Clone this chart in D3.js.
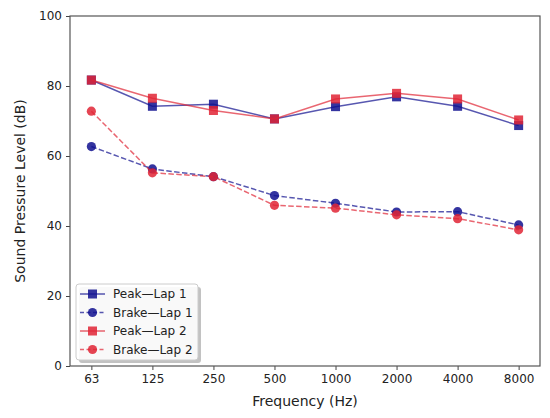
<!DOCTYPE html>
<html>
<head>
<meta charset="utf-8">
<script src="https://cdn.jsdelivr.net/npm/d3@7"></script>
<style>
  body { margin: 0; background: #fff; }
  text { font-family: "DejaVu Sans", sans-serif; fill: #222; }
</style>
</head>
<body>
<div id="chart"></div>
<script>
// chart data
var frequencies = ["63", "125", "250", "500", "1000", "2000", "4000", "8000"];
var peakLap1 = [81.7, 74.2, 74.8, 70.6, 74.1, 76.9, 74.2, 68.7];
var brakeLap1 = [62.7, 56.3, 54.1, 48.7, 46.5, 44.0, 44.1, 40.3];
var peakLap2 = [81.7, 76.5, 73.0, 70.6, 76.3, 77.9, 76.3, 70.3];
var brakeLap2 = [72.8, 55.2, 54.1, 45.9, 45.1, 43.2, 42.1, 38.9];
var yTicks = [0, 20, 40, 60, 80, 100];

var svgWidth = 550;
var svgHeight = 418;
var margin = { top: 16, right: 10, bottom: 52, left: 70 };
var width = svgWidth - margin.left - margin.right;
var height = svgHeight - margin.top - margin.bottom;

var blue = "#10108f";
var red = "#e02535";

var series = [
  { name: "Peak\u2014Lap 1", values: peakLap1, color: blue, dash: null, shape: "square" },
  { name: "Brake\u2014Lap 1", values: brakeLap1, color: blue, dash: "5.5,2.4", shape: "circle" },
  { name: "Peak\u2014Lap 2", values: peakLap2, color: red, dash: null, shape: "square" },
  { name: "Brake\u2014Lap 2", values: brakeLap2, color: red, dash: "5.5,2.4", shape: "circle" }
];

var svg = d3.select("#chart")
  .append("svg")
  .attr("width", svgWidth)
  .attr("height", svgHeight);

var chartGroup = svg.append("g")
  .attr("transform", `translate(${margin.left}, ${margin.top})`);

var xScale = d3.scalePoint()
  .domain(frequencies)
  .range([0, width])
  .padding(0.35);

var yScale = d3.scaleLinear()
  .domain([0, 100])
  .range([height, 0]);

// axes
var bottomAxis = d3.axisBottom(xScale).tickSizeOuter(0).tickSize(4).tickPadding(4);
var leftAxis = d3.axisLeft(yScale).tickValues(yTicks).tickSizeOuter(0).tickSize(4).tickPadding(4);

var xAxisG = chartGroup.append("g")
  .attr("transform", `translate(0, ${height})`)
  .call(bottomAxis);
var yAxisG = chartGroup.append("g").call(leftAxis);

[xAxisG, yAxisG].forEach(function (g) {
  g.select(".domain").remove();
  g.selectAll(".tick line").attr("stroke", "#444");
  g.selectAll(".tick text").style("font-size", "12px").style("font-family", "DejaVu Sans").attr("fill", "#222");
});

// frame
chartGroup.append("rect")
  .attr("width", width)
  .attr("height", height)
  .attr("fill", "none")
  .attr("stroke", "#555")
  .attr("stroke-width", 1.2);

// lines and markers
var line = d3.line()
  .x((d, i) => xScale(frequencies[i]))
  .y(d => yScale(d));

function drawMarker(g, shape, color, x, y) {
  if (shape === "square") {
    g.append("rect")
      .attr("x", x - 4.5).attr("y", y - 4.5)
      .attr("width", 9).attr("height", 9)
      .attr("fill", color).attr("fill-opacity", 0.85);
  } else {
    g.append("circle")
      .attr("cx", x).attr("cy", y).attr("r", 4.6)
      .attr("fill", color).attr("fill-opacity", 0.85);
  }
}

series.forEach(function (s) {
  var g = chartGroup.append("g");
  g.append("path")
    .datum(s.values)
    .attr("d", line)
    .attr("fill", "none")
    .attr("stroke", s.color)
    .attr("stroke-opacity", 0.7)
    .attr("stroke-width", 1.5)
    .attr("stroke-dasharray", s.dash);
  s.values.forEach(function (v, i) {
    drawMarker(g, s.shape, s.color, xScale(frequencies[i]), yScale(v));
  });
});

// axis labels
chartGroup.append("text")
  .attr("x", width / 2)
  .attr("y", height + 40)
  .attr("text-anchor", "middle")
  .style("font-size", "14px")
  .text("Frequency (Hz)");

chartGroup.append("text")
  .attr("transform", `translate(${-margin.left + 25}, ${height / 2}) rotate(-90)`)
  .attr("text-anchor", "middle")
  .style("font-size", "14px")
  .text("Sound Pressure Level (dB)");

// legend
var legend = chartGroup.append("g")
  .attr("transform", "translate(6, 268)");

legend.append("rect")
  .attr("x", 3).attr("y", 3)
  .attr("width", 122).attr("height", 76)
  .attr("rx", 3)
  .attr("fill", "#999").attr("fill-opacity", 0.6);
legend.append("rect")
  .attr("width", 122).attr("height", 76)
  .attr("rx", 3)
  .attr("fill", "#fff").attr("fill-opacity", 0.9)
  .attr("stroke", "#ccc");

series.forEach(function (s, i) {
  var ly = 10 + i * 18.5;
  var item = legend.append("g");
  item.append("line")
    .attr("x1", 4).attr("x2", 29)
    .attr("y1", ly).attr("y2", ly)
    .attr("stroke", s.color)
    .attr("stroke-opacity", 0.7)
    .attr("stroke-width", 1.5)
    .attr("stroke-dasharray", s.dash ? "4,2.5" : null);
  drawMarker(item, s.shape, s.color, 16.5, ly);
  item.append("text")
    .attr("x", 37).attr("y", ly)
    .attr("dy", "0.35em")
    .style("font-size", "12px")
    .text(s.name);
});
</script>
</body>
</html>
